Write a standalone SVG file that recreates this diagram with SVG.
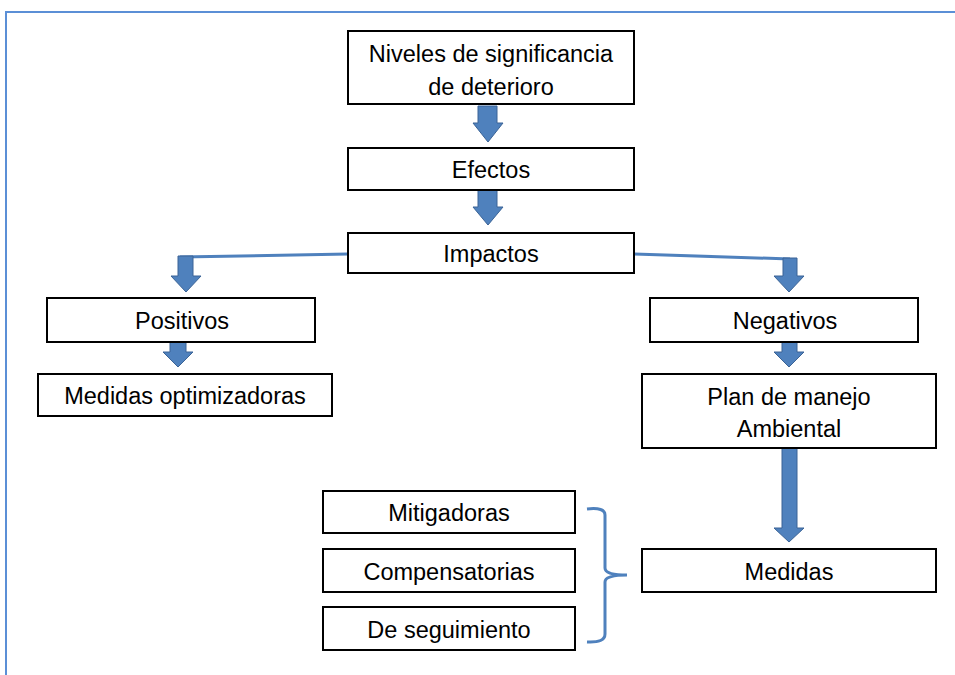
<svg xmlns="http://www.w3.org/2000/svg" width="955" height="675" viewBox="0 0 955 675">
<style>
.box{fill:#fff;stroke:#000;stroke-width:2}
.t{font-family:"Liberation Sans",Arial,sans-serif;font-size:23.5px;fill:#000;text-anchor:middle}
.arr{fill:#4F81BD;stroke:#3A6396;stroke-width:1}
.ln{fill:none;stroke:#4F81BD;stroke-width:3}
</style>
<rect width="955" height="675" fill="#fff"/>
<path d="M6,675 V12 H955" fill="none" stroke="#5B8FD6" stroke-width="2"/>
<g id="connectors">
<polygon class="arr" points="478,106 497,106 497,123 503,123 488,142 473,123 478,123"/>
<polygon class="arr" points="478,190 497,190 497,207 503,207 488,225 473,207 478,207"/>
<polyline class="ln" points="348,254 180,257"/>
<polygon class="arr" points="178,256 193,256 193,276 201,276 186,292 171,276 178,276"/>
<polyline class="ln" points="634,254 790,259"/>
<polygon class="arr" points="783,258 797,258 797,276 804,276 789,292 774,276 783,276"/>
<polygon class="arr" points="170,342 186,342 186,352 193,352 178,367 163,352 170,352"/>
<polygon class="arr" points="782,342 797,342 797,352 804,352 789,367 774,352 782,352"/>
<polygon class="arr" points="782,448 797,448 797,528 804,528 789,542 774,528 782,528"/>
<path class="ln" d="M587,509 Q605,507 605,515 V568 Q605,575 627,575 Q605,575 605,582 V634 Q605,643 587,642"/>
</g>
<g id="n1"><rect class="box" x="348" y="31" width="286" height="73"/><text class="t" x="491" y="62">Niveles de significancia</text><text class="t" x="491" y="95">de deterioro</text></g>
<g id="n2"><rect class="box" x="348" y="148" width="286" height="42"/><text class="t" x="491" y="178">Efectos</text></g>
<g id="n3"><rect class="box" x="348" y="233" width="286" height="40"/><text class="t" x="491" y="262">Impactos</text></g>
<g id="n4"><rect class="box" x="47" y="298" width="268" height="44"/><text class="t" x="182" y="329">Positivos</text></g>
<g id="n5"><rect class="box" x="38" y="374" width="294" height="42"/><text class="t" x="185" y="404">Medidas optimizadoras</text></g>
<g id="n6"><rect class="box" x="650" y="298" width="268" height="44"/><text class="t" x="785" y="329">Negativos</text></g>
<g id="n7"><rect class="box" x="642" y="374" width="294" height="74"/><text class="t" x="789" y="405">Plan de manejo</text><text class="t" x="789" y="437">Ambiental</text></g>
<g id="n8"><rect class="box" x="642" y="549" width="294" height="43"/><text class="t" x="789" y="580">Medidas</text></g>
<g id="n9"><rect class="box" x="323" y="491" width="252" height="42"/><text class="t" x="449" y="521">Mitigadoras</text></g>
<g id="n10"><rect class="box" x="323" y="549" width="252" height="43"/><text class="t" x="449" y="580">Compensatorias</text></g>
<g id="n11"><rect class="box" x="323" y="607" width="252" height="43"/><text class="t" x="449" y="638">De seguimiento</text></g>
</svg>
